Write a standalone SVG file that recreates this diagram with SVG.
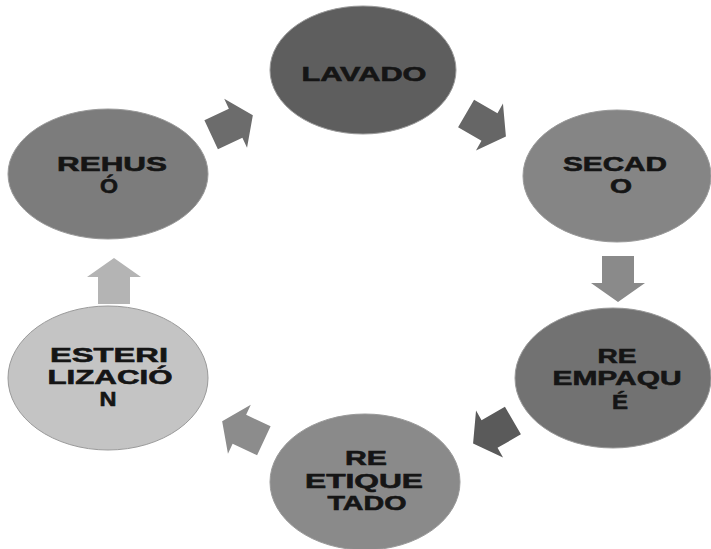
<svg xmlns="http://www.w3.org/2000/svg" xmlns:xlink="http://www.w3.org/1999/xlink" width="711" height="549" viewBox="0 0 711 549">
<style>
text{font-family:"Liberation Sans",Arial,sans-serif;font-weight:bold;font-size:20px;fill:#151515;text-anchor:middle;stroke:#151515;stroke-width:0.6}
.n{stroke:#9a9a9a;stroke-width:1}
</style>
<defs>
<polygon id="arr" points="-23,-16 4,-16 4,-27 23,0 4,27 4,16 -23,16"/>
</defs>
<rect width="711" height="549" fill="#ffffff"/>
<g id="connectors">
<use xlink:href="#arr" href="#arr" transform="translate(232,125) rotate(-25)" fill="#6c6c6c"/>
<use xlink:href="#arr" href="#arr" transform="translate(486,125) rotate(30)" fill="#666666"/>
<use xlink:href="#arr" href="#arr" transform="translate(618,279) rotate(90)" fill="#8a8a8a"/>
<use xlink:href="#arr" href="#arr" transform="translate(493,432) rotate(150)" fill="#5a5a5a"/>
<use xlink:href="#arr" href="#arr" transform="translate(243,431) rotate(205)" fill="#8c8c8c"/>
<use xlink:href="#arr" href="#arr" transform="translate(114,281) rotate(-90)" fill="#b4b4b4"/>
</g>
<g id="lavado">
<ellipse class="n" cx="363" cy="70" rx="93" ry="64" fill="#5e5e5e"/>
<text x="364" y="81" textLength="125" lengthAdjust="spacingAndGlyphs">LAVADO</text>
</g>
<g id="secado">
<ellipse class="n" cx="617" cy="176" rx="94" ry="66" fill="#858585"/>
<text x="615" y="171" textLength="104" lengthAdjust="spacingAndGlyphs">SECAD</text>
<text x="621" y="193" textLength="22" lengthAdjust="spacingAndGlyphs">O</text>
</g>
<g id="reempaque">
<ellipse class="n" cx="613" cy="378" rx="98" ry="70" fill="#727272"/>
<text x="617" y="363" textLength="39" lengthAdjust="spacingAndGlyphs">RE</text>
<text x="617" y="385" textLength="129" lengthAdjust="spacingAndGlyphs">EMPAQU</text>
<text x="620" y="409" textLength="16" lengthAdjust="spacingAndGlyphs">É</text>
</g>
<g id="reetiquetado">
<ellipse class="n" cx="365" cy="482" rx="95" ry="68" fill="#8a8a8a"/>
<text x="366" y="465" textLength="42" lengthAdjust="spacingAndGlyphs">RE</text>
<text x="364" y="488" textLength="118" lengthAdjust="spacingAndGlyphs">ETIQUE</text>
<text x="367" y="510" textLength="79" lengthAdjust="spacingAndGlyphs">TADO</text>
</g>
<g id="esterilizacion">
<ellipse class="n" cx="108" cy="378" rx="100" ry="72" fill="#c4c4c4"/>
<text x="109" y="362" textLength="118" lengthAdjust="spacingAndGlyphs">ESTERI</text>
<text x="110" y="384" textLength="125" lengthAdjust="spacingAndGlyphs">LIZACIÓ</text>
<text x="108" y="406" textLength="17" lengthAdjust="spacingAndGlyphs">N</text>
</g>
<g id="rehuso">
<ellipse class="n" cx="108" cy="174" rx="100" ry="65" fill="#7c7c7c"/>
<text x="112" y="171" textLength="110" lengthAdjust="spacingAndGlyphs">REHUS</text>
<text x="109" y="193" textLength="18" lengthAdjust="spacingAndGlyphs">Ó</text>
</g>
</svg>
